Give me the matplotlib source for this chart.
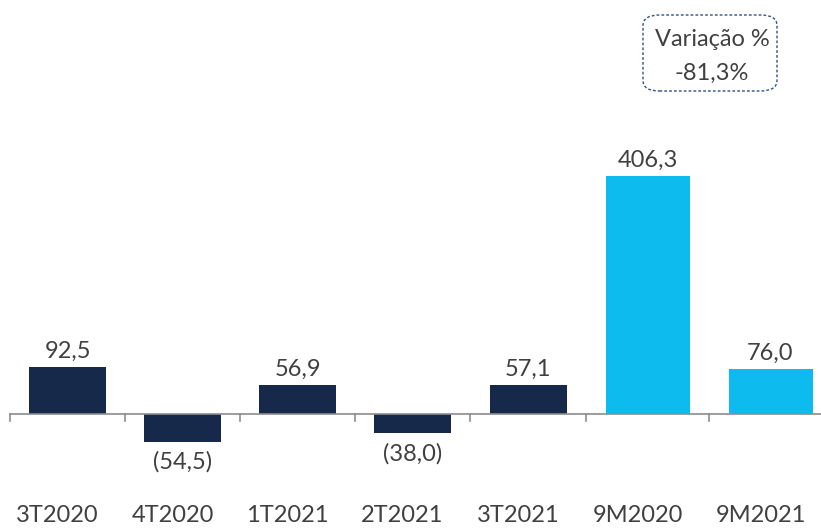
import matplotlib.pyplot as plt
from matplotlib.patches import FancyBboxPatch

# dados
trimestres = ['3T2020', '4T2020', '1T2021', '2T2021', '3T2021']
valores_tri = [92.5, -54.5, 56.9, -38.0, 57.1]
acumulados = ['9M2020', '9M2021']
valores_acum = [406.3, 76.0]
variacao = '-81,3%'

# layout (em pixels da figura)
bordas = [10, 125, 240, 355, 470, 586, 709, 832]
cor_tri = '#17294A'
cor_acum = '#0EBBEE'
cor_texto = '#404040'
fs = 17

plt.rcParams['font.family'] = ['Lato', 'DejaVu Sans']


def fmt(v):
    s = f"{abs(v):.1f}".replace('.', ',')
    return f"({s})" if v < 0 else s


fig = plt.figure(figsize=(8.21, 5.29), dpi=100)
ax = fig.add_axes([0, 0, 1, 1])
ax2 = ax.twinx()
# zero em y=414 px; escalas diferentes para trimestres e acumulado
ax.set_ylim(-115 / 0.505, 414 / 0.505)
ax2.set_ylim(-115 / 0.586, 414 / 0.586)
ax.set_xlim(0, 821)
ax2.set_xlim(0, 821)
for a in (ax, ax2):
    a.axis('off')

centros = [(bordas[i] + bordas[i + 1]) / 2 for i in range(7)]
larg = [77] * 5 + [84, 84]

ax.bar(centros[:5], valores_tri, width=larg[:5], color=cor_tri, zorder=3)
ax2.bar(centros[5:], valores_acum, width=larg[5:], color=cor_acum, zorder=3)

for c, v in zip(centros[:5], valores_tri):
    ax.annotate(fmt(v), (c, v), xytext=(0, 4 if v > 0 else -7),
                textcoords='offset points', ha='center',
                va='bottom' if v > 0 else 'top', fontsize=fs, color=cor_texto)
for c, v in zip(centros[5:], valores_acum):
    ax2.annotate(fmt(v), (c, v), xytext=(0, 4), textcoords='offset points',
                 ha='center', va='bottom', fontsize=fs, color=cor_texto)

# eixo horizontal com marcas
tr = ax.get_xaxis_transform()
ax.plot([10, 821], [0, 0], color='#8C8C8C', lw=1.2, zorder=4)
for b in bordas[:-1]:
    ax.plot([b, b], [0, -14], color='#8C8C8C', lw=1.2, zorder=4)

# rotulos de categoria
for c, t in zip(centros, trimestres + acumulados):
    ax.text(c - 10, 0.006, t, transform=tr, ha='center', va='bottom',
            fontsize=fs, color=cor_texto)

# caixa de variacao
caixa = FancyBboxPatch((643 / 821, 1 - 91 / 529), 134 / 821, 76 / 529,
                       boxstyle='round,pad=0,rounding_size=0.02',
                       transform=fig.transFigure, fill=False,
                       edgecolor='#2F5184', lw=1.0, ls=(0, (2, 1.5)))
fig.patches.append(caixa)
fig.text(712 / 821, 1 - 39 / 529, 'Variação %', ha='center', va='center',
         fontsize=fs, color=cor_texto)
fig.text(712 / 821, 1 - 73 / 529, variacao, ha='center', va='center',
         fontsize=fs, color=cor_texto)

fig.savefig('out.png', dpi=100)
